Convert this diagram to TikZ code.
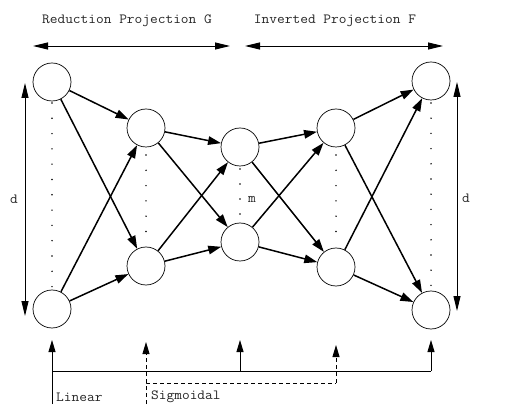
\documentclass[tikz,border=0pt]{standalone}
\usepackage{fontspec}
\newfontfamily\monofont[FakeStretch=1.07]{Latin Modern Mono}
\usetikzlibrary{arrows.meta}
\begin{document}
\begin{tikzpicture}[x=1pt,y=-1pt,
  neuron/.style={circle,draw,line width=0.7pt,minimum size=38pt,inner sep=0pt},
  conn/.style={line width=1.5pt,-{Triangle[length=13pt,width=8.5pt]}},
  span/.style={line width=0.9pt,{Triangle[length=15pt,width=7pt]}-{Triangle[length=15pt,width=7pt]}},
  feed/.style={line width=0.9pt,-{Triangle[length=12pt,width=7pt]}},
  feedd/.style={line width=0.9pt,dashed,dash pattern=on 4pt off 3pt,-{Triangle[length=12pt,width=7pt]}},
  lbl/.style={font=\monofont\fontsize{14}{16}\selectfont,inner sep=0pt,text=black!85}]
\useasboundingbox (0,0) rectangle (508,419);
% neurons
\node[neuron] (a1) at (52,82) {};
\node[neuron] (a2) at (52,309) {};
\node[neuron] (b1) at (146,128) {};
\node[neuron] (b2) at (146,266) {};
\node[neuron] (c1) at (240,147) {};
\node[neuron] (c2) at (240,242) {};
\node[neuron] (d1) at (336,128) {};
\node[neuron] (d2) at (336,267) {};
\node[neuron] (e1) at (431,81) {};
\node[neuron] (e2) at (431,310) {};
% dots
\foreach \i in {0,...,12} \fill (52,103+15.3*\i) circle (0.8pt);
\foreach \i in {0,...,5} \fill (146,155+15.3*\i) circle (0.8pt);
\foreach \i in {0,...,3} \fill (240,169+15*\i) circle (0.8pt);
\foreach \i in {0,...,5} \fill (336,155+15.3*\i) circle (0.8pt);
\foreach \i in {0,...,12} \fill (431,103+15.2*\i) circle (0.8pt);
% connections
\foreach \s/\t in {a/b,b/c,c/d,d/e}{
  \draw[conn] (\s1) -- (\t1);
  \draw[conn] (\s1) -- (\t2);
  \draw[conn] (\s2) -- (\t1);
  \draw[conn] (\s2) -- (\t2);
}
% top labels and spans
\node[lbl] (tg) at (127,21) {Reduction Projection G};
\node[lbl] (tf) at (335,21) {Inverted Projection F};
\coordinate (g1) at (33,46); \coordinate (g2) at (230,46);
\coordinate (f1) at (245,46); \coordinate (f2) at (443,46);
\draw[span] (g1) -- (g2);
\draw[span] (f1) -- (f2);
% d spans
\node[lbl] (dl) at (14,199) {d};
\node[lbl] (dr) at (466,198) {d};
\node[lbl] (m) at (252,199) {m};
\coordinate (dl1) at (25,83); \coordinate (dl2) at (25,316);
\coordinate (dr1) at (457,82); \coordinate (dr2) at (457,311);
\draw[span] (dl1) -- (dl2);
\draw[span] (dr1) -- (dr2);
% bottom feeds
\coordinate (s0) at (52,404);
\coordinate (s1) at (52,371);
\coordinate (s3) at (240,371);
\coordinate (s5) at (431,371);
\coordinate (t1) at (52,340);
\coordinate (t3) at (240,340);
\coordinate (t5) at (431,340);
\draw[line width=0.9pt] (s0) -- (s1) -- (s5);
\draw[feed] (s1) -- (t1);
\draw[feed] (s3) -- (t3);
\draw[feed] (s5) -- (t5);
\coordinate (q0) at (146,404);
\coordinate (q2) at (146,383);
\coordinate (q4) at (336,383);
\coordinate (u2) at (146,342);
\coordinate (u4) at (336,345);
\draw[line width=0.9pt,dash pattern=on 4pt off 3pt] (q0) -- (q2) -- (q4);
\draw[feedd] (q2) -- (u2);
\draw[feedd] (q4) -- (u4);
\node[lbl,anchor=west] (lin) at (56,397) {Linear};
\node[lbl,anchor=west] (sig) at (151,397) {Sigmoidal};
\end{tikzpicture}
\end{document}
